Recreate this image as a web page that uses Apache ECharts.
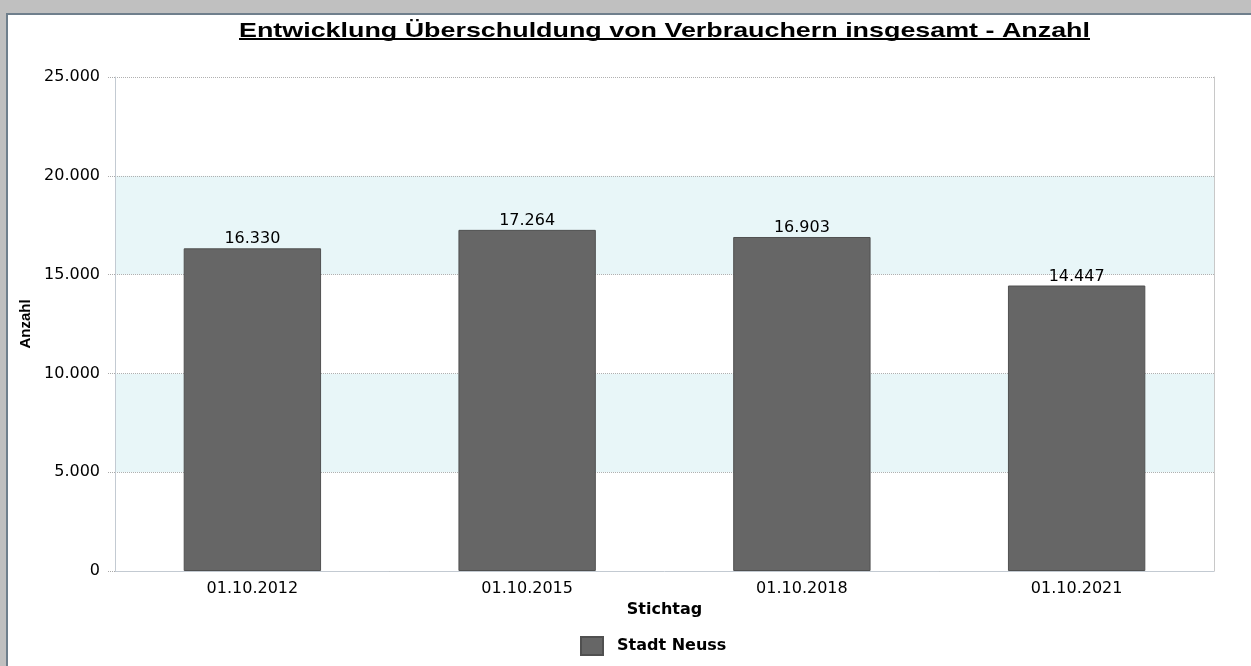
<!DOCTYPE html>
<html>
<head>
<meta charset="utf-8">
<script src="https://cdn.jsdelivr.net/npm/echarts@6/dist/echarts.min.js"></script>
<style>
  html, body { margin: 0; padding: 0; background: #c0c0c0; }
  #frame {
    position: absolute; left: 6px; top: 13px;
    width: 1245px; height: 653px;
    border-top: 2px solid #6f7f8c; border-left: 2px solid #6f7f8c;
    background: #fff;
  }
  #main { width: 1243px; height: 651px; }
</style>
</head>
<body>
<div id="frame"><div id="main"></div></div>
<script>
// Stichtage und Anzahl überschuldeter Verbraucher
const categories = ['01.10.2012', '01.10.2015', '01.10.2018', '01.10.2021'];
const values = [16330, 17264, 16903, 14447];
const seriesName = 'Stadt Neuss';
const yTicks = { min: 0, max: 25000, interval: 5000 };
const titleText = 'Entwicklung Überschuldung von Verbrauchern insgesamt - Anzahl';

function fmt(v) {
    return String(v).replace(/\B(?=(\d{3})+(?!\d))/g, '.');
}

const chart = echarts.init(document.getElementById('main'));

const txt = { fontFamily: 'DejaVu Sans', fontSize: 16, color: '#000' };
const titleFont = 'bold 21px "Liberation Sans"';
const titleW = 851; // Breite des Titels im Original
const rawW = echarts.format.getTextRect
    ? echarts.format.getTextRect(titleText, titleFont).width
    : 665;
const cx = 1243 / 2 + 35;

chart.setOption({
    animation: false,
    graphic: [{
        type: 'text',
        x: cx,
        y: 16,
        scaleX: titleW / rawW,
        style: {
            text: titleText,
            font: titleFont,
            fill: '#000',
            align: 'center',
            verticalAlign: 'middle'
        },
        silent: true
    }, {
        type: 'rect',
        shape: { x: cx - titleW / 2, y: 23, width: titleW, height: 2 },
        style: { fill: '#000' },
        silent: true
    }],
    legend: {
        bottom: 5,
        left: 567,
        icon: 'rect',
        itemWidth: 22,
        itemHeight: 18,
        textStyle: {
            fontFamily: 'DejaVu Sans', fontWeight: 'bold', fontSize: 16, color: '#000',
            padding: [0, 0, 0, 9]
        },
        data: [seriesName]
    },
    grid: { left: 107, right: 37, top: 62, bottom: 95 },
    xAxis: {
        type: 'category',
        data: categories,
        name: 'Stichtag',
        nameLocation: 'middle',
        nameGap: 30,
        nameTextStyle: { fontFamily: 'DejaVu Sans', fontWeight: 'bold', fontSize: 16, color: '#000' },
        axisLine: { lineStyle: { color: '#c3cad2', width: 1 } },
        axisTick: { alignWithLabel: true, length: 6, lineStyle: { color: '#aaa', type: 'dotted' } },
        axisLabel: Object.assign({ margin: 10 }, txt)
    },
    yAxis: [{
        type: 'value',
        min: yTicks.min,
        max: yTicks.max,
        interval: yTicks.interval,
        name: 'Anzahl',
        nameLocation: 'middle',
        nameGap: 79,
        nameTextStyle: { fontFamily: 'Liberation Sans', fontWeight: 'bold', fontSize: 15, color: '#000' },
        axisLine: { show: true, lineStyle: { color: '#c3cad2', width: 1 } },
        axisTick: { show: true, length: 8, lineStyle: { color: '#aaa', type: 'dotted' } },
        axisLabel: Object.assign({ margin: 15, formatter: fmt }, txt),
        splitLine: { lineStyle: { color: '#b0b0b0', type: 'dotted' } },
        splitArea: { show: true, areaStyle: { color: ['#ffffff', '#e8f6f8'] } }
    }, {
        type: 'value',
        position: 'right',
        min: yTicks.min,
        max: yTicks.max,
        interval: yTicks.interval,
        axisLine: { show: true, lineStyle: { color: '#c8c8c8', width: 1 } },
        axisTick: { show: false },
        axisLabel: { show: false },
        splitLine: { show: false }
    }],
    series: [{
        name: seriesName,
        type: 'bar',
        data: values,
        barWidth: '50%',
        itemStyle: { color: '#666666', borderColor: '#505050', borderWidth: 1 },
        label: {
            show: true,
            position: 'top',
            distance: 1,
            formatter: p => fmt(p.value),
            fontFamily: 'DejaVu Sans',
            fontSize: 16,
            color: '#000'
        }
    }]
});
</script>
</body>
</html>
